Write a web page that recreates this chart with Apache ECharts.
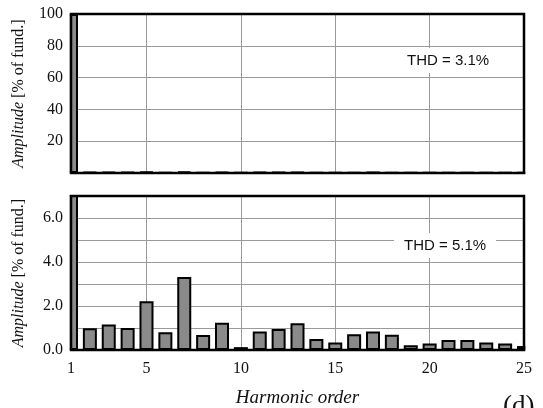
<!DOCTYPE html>
<html>
<head>
<meta charset="utf-8">
<style>
  html, body { margin: 0; padding: 0; background: #fff; }
  #chart { width: 543px; height: 408px; }
</style>
<script src="https://cdn.jsdelivr.net/npm/echarts@6/dist/echarts.min.js"></script>
</head>
<body>
<div id="chart"></div>
<script>
// Harmonic orders
const harmonics = [1,2,3,4,5,6,7,8,9,10,11,12,13,14,15,16,17,18,19,20,21,22,23,24,25];
// Top panel amplitudes [% of fund.] (THD = 3.1%) - harmonics barely visible at this scale
const topValues = [100,0.5,0.6,0.5,0.8,0.4,0.9,0.4,0.6,0.2,0.5,0.5,0.6,0.3,0.3,0.4,0.5,0.4,0.2,0.2,0.3,0.3,0.2,0.2,0.2];
// Bottom panel amplitudes [% of fund.] (THD = 5.1%)
const bottomValues = [100,0.99,1.16,1.0,2.22,0.81,3.32,0.68,1.24,0.13,0.84,0.96,1.22,0.5,0.34,0.72,0.84,0.69,0.22,0.29,0.46,0.46,0.34,0.29,0.18];
// Tick labels
const xTickLabels = [1,5,10,15,20,25];
const topYTicks = [20,40,60,80,100];
const bottomYTicks = [0,2,4,6];
const thdTop = 'THD = 3.1%';
const thdBottom = 'THD = 5.1%';

const serif = 'Liberation Serif, Times New Roman, serif';
const sans = 'Liberation Sans, Arial, sans-serif';
const gridColor = '#9a9a9a';
const splitColors = ['rgba(0,0,0,0)','rgba(0,0,0,0)','rgba(0,0,0,0)','rgba(0,0,0,0)',gridColor];

const yName = '{i|Amplitude} [% of fund.]';
const yNameStyle = {
  fontFamily: serif, fontSize: 16, color: '#111',
  rich: { i: { fontFamily: serif, fontSize: 16, fontStyle: 'italic', color: '#111' } }
};

function pairs(vals) { return harmonics.map((h, i) => [h, vals[i]]); }

const chart = echarts.init(document.getElementById('chart'), null, { renderer: 'canvas' });
chart.setOption({
  animation: false,
  backgroundColor: '#fff',
  grid: [
    { left: 71, right: 19, top: 14, height: 159, show: true, borderColor: '#000', borderWidth: 2.5, backgroundColor: 'transparent', z: 3 },
    { left: 71, right: 19, top: 196, height: 160, show: true, borderColor: '#000', borderWidth: 2.5, backgroundColor: 'transparent', z: 3 }
  ],
  xAxis: [
    {
      gridIndex: 0, type: 'value', min: 1, max: 25, interval: 1,
      axisLine: { show: false }, axisTick: { show: false }, axisLabel: { show: false },
      splitLine: { show: true, lineStyle: { color: splitColors, width: 1 } }
    },
    {
      gridIndex: 1, type: 'value', min: 1, max: 25, interval: 1,
      axisLine: { show: false }, axisTick: { show: false },
      axisLabel: {
        show: true, margin: 11, fontFamily: serif, fontSize: 16, color: '#111',
        formatter: v => xTickLabels.indexOf(v) >= 0 ? String(v) : ''
      },
      splitLine: { show: true, lineStyle: { color: splitColors, width: 1 } },
      name: 'Harmonic order', nameLocation: 'middle', nameGap: 38,
      nameTextStyle: { fontFamily: serif, fontSize: 19, fontStyle: 'italic', color: '#111' }
    }
  ],
  yAxis: [
    {
      gridIndex: 0, type: 'value', min: 0, max: 100, interval: 20,
      axisLine: { show: false }, axisTick: { show: false },
      axisLabel: { margin: 8, fontFamily: serif, fontSize: 16, color: '#111',
        formatter: v => topYTicks.indexOf(v) >= 0 ? String(v) : '' },
      splitLine: { show: true, lineStyle: { color: gridColor, width: 1 } },
      name: yName, nameLocation: 'middle', nameGap: 44, nameTextStyle: yNameStyle
    },
    {
      gridIndex: 1, type: 'value', min: 0, max: 7, interval: 1,
      axisLine: { show: false }, axisTick: { show: false },
      axisLabel: { margin: 8, fontFamily: serif, fontSize: 16, color: '#111',
        formatter: v => bottomYTicks.indexOf(v) >= 0 ? v.toFixed(1) : '' },
      splitLine: { show: true, lineStyle: { color: gridColor, width: 1 } },
      name: yName, nameLocation: 'middle', nameGap: 44, nameTextStyle: yNameStyle
    }
  ],
  series: [
    {
      type: 'bar', xAxisIndex: 0, yAxisIndex: 0, data: pairs(topValues),
      barWidth: 14, clip: true, z: 2,
      itemStyle: { color: '#8a8a8a', borderColor: '#000', borderWidth: 2 }
    },
    {
      type: 'bar', xAxisIndex: 1, yAxisIndex: 1, data: pairs(bottomValues),
      barWidth: 14, clip: true, z: 2,
      itemStyle: { color: '#8a8a8a', borderColor: '#000', borderWidth: 2 }
    }
  ],
  graphic: [
    // white masks hiding the half-bars that spill outside the plot frames
    { type: 'rect', z: 2.5, silent: true, shape: { x: 63, y: 10, width: 6.8, height: 350 }, style: { fill: '#fff' } },
    { type: 'rect', z: 2.5, silent: true, shape: { x: 525.3, y: 10, width: 10, height: 350 }, style: { fill: '#fff' } },
    {
      type: 'text', left: 397, top: 48, z: 10,
      style: { text: thdTop, fontFamily: sans, fontSize: 15, fill: '#111',
        backgroundColor: '#fff', padding: [5, 10, 5, 10] }
    },
    {
      type: 'text', left: 394, top: 233, z: 10,
      style: { text: thdBottom, fontFamily: sans, fontSize: 15, fill: '#111',
        backgroundColor: '#fff', padding: [5, 10, 5, 10] }
    },
    {
      type: 'text', left: 503, top: 393, z: 10,
      style: { text: '(d)', fontFamily: serif, fontSize: 27, fill: '#111' }
    }
  ]
});
</script>
</body>
</html>
